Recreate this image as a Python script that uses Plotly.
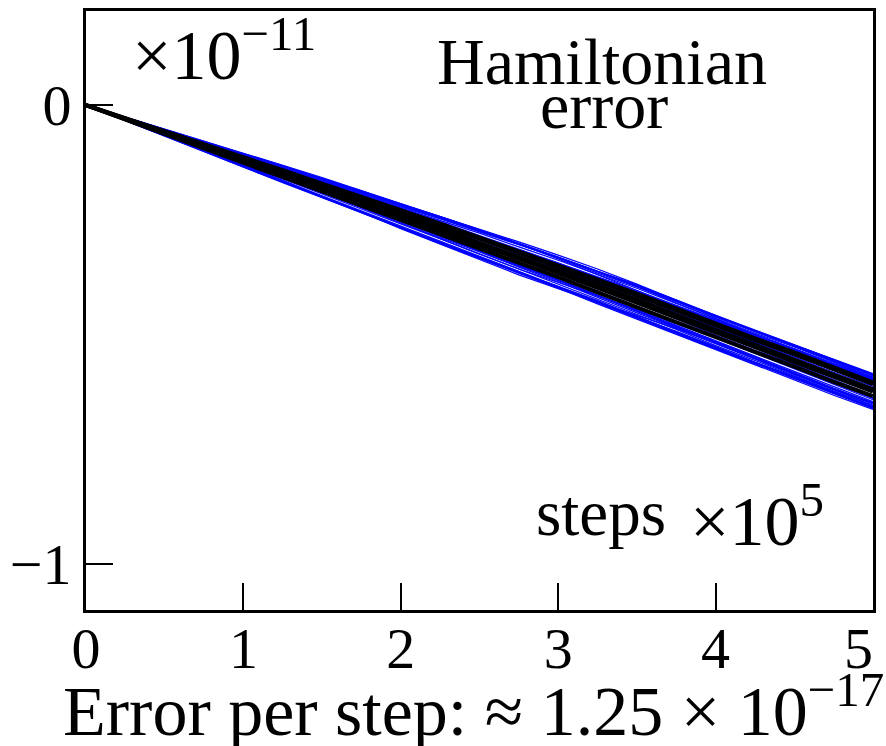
import plotly.graph_objects as go

# Simulation steps (units of 1e5) at which the Hamiltonian error was sampled
steps = [0.0, 0.25, 0.5, 0.75, 1.0, 1.25, 1.5, 1.75, 2.0, 2.25, 2.5,
         2.75, 3.0, 3.25, 3.5, 3.75, 4.0, 4.25, 4.5, 4.75, 5.0]

# Ensemble-average drift of the Hamiltonian error (units of 1e-14)
drift = [0, -30, -60, -90, -120, -150, -180, -210, -241, -271, -302,
         -333, -364, -396, -428, -461, -494, -526, -558, -591, -623]

# Per-trajectory departures from the drift (units of 1e-14), blue runs
blue_runs = [
    [0, 4, 8, 12, 15, 19, 22, 24, 27, 29, 31, 32, 33, 35, 36, 35, 36, 37, 36, 37, 37],
    [0, -4, -8, -12, -16, -19, -22, -25, -27, -29, -31, -32, -33, -34, -35, -36, -35, -36, -37, -36, -37],
    [0, 3, 7, 9, 12, 14, 16, 19, 22, 25, 27, 30, 31, 30, 32, 33, 32, 34, 33, 34, 33],
    [0, -3, -6, -9, -12, -14, -17, -20, -23, -26, -28, -30, -31, -32, -33, -32, -33, -34, -33, -34, -35],
    [0, 3, 5, 7, 9, 11, 14, 16, 17, 20, 23, 24, 26, 27, 29, 29, 30, 29, 31, 31, 30],
    [0, -3, -5, -7, -10, -11, -14, -16, -18, -20, -22, -24, -25, -27, -28, -28, -30, -30, -31, -32, -32],
    [0, 2, 4, 6, 7, 10, 12, 13, 15, 17, 18, 19, 21, 22, 24, 25, 26, 26, 27, 26, 27],
    [0, -2, -4, -6, -7, -10, -12, -13, -16, -17, -18, -20, -21, -23, -24, -25, -26, -27, -28, -29, -28],
    [0, 3, 5, 4, 7, 11, 14, 18, 21, 25, 28, 30, 29, 27, 24, 22, 21, 20, 22, 24, 25],
    [0, -3, -4, -7, -11, -14, -19, -23, -28, -32, -35, -37, -36, -33, -29, -26, -24, -25, -27, -28, -26],
    [0, 2, 3, 6, 8, 7, 10, 12, 11, 14, 16, 15, 17, 19, 18, 20, 22, 23, 25, 24, 26],
    [0, -2, -3, -6, -7, -8, -11, -10, -12, -15, -16, -18, -17, -19, -21, -22, -21, -23, -24, -26, -25],
    [0, 2, 4, 3, 6, 8, 11, 15, 19, 23, 26, 29, 32, 34, 33, 30, 28, 26, 24, 23, 22],
    [0, -2, -3, -5, -4, -7, -10, -13, -16, -20, -23, -24, -22, -19, -17, -16, -14, -15, -17, -18, -19],
    [0, 1, 3, 4, 4, 6, 7, 8, 8, 11, 12, 13, 16, 18, 20, 22, 23, 25, 27, 28, 29],
    [0, -1, -2, -3, -4, -4, -6, -8, -9, -11, -13, -15, -17, -19, -21, -23, -25, -26, -28, -29, -31],
    [0, 1, 2, 3, 3, 4, 4, 6, 8, 9, 9, 10, 12, 11, 12, 13, 14, 15, 14, 15, 16],
    [0, -1, -2, -3, -3, -4, -5, -5, -7, -7, -8, -9, -8, -9, -10, -12, -11, -12, -13, -14, -15],
    [0, 3, 5, 8, 11, 13, 17, 21, 25, 28, 32, 35, 37, 39, 38, 36, 34, 35, 36, 37, 38],
    [0, -3, -5, -9, -13, -17, -21, -25, -28, -31, -32, -33, -35, -37, -38, -39, -39, -40, -40, -41, -40],
    [0, 1, 3, 4, 7, 8, 10, 12, 14, 15, 17, 18, 20, 21, 22, 24, 25, 26, 27, 28, 29],
    [0, -1, -3, -4, -7, -8, -10, -12, -13, -14, -16, -17, -18, -19, -20, -21, -22, -24, -25, -26, -27],
    [0, 1, 3, 3, 4, 5, 5, 7, 7, 8, 9, 8, 7, 6, 7, 8, 9, 10, 12, 13, 14],
    [0, -1, -1, -2, -3, -3, -3, -4, -4, -5, -4, -3, -2, -3, -4, -5, -7, -8, -7, -8, -9],
    [0, 3, 6, 10, 14, 18, 20, 23, 25, 27, 29, 31, 33, 34, 36, 37, 36, 34, 32, 31, 30],
    [0, -3, -6, -10, -14, -17, -19, -22, -25, -28, -30, -32, -31, -30, -32, -34, -35, -35, -36, -35, -34],
    [0, 1, 2, 3, 4, 5, 8, 9, 12, 13, 15, 17, 18, 17, 16, 15, 16, 17, 18, 19, 20],
    [0, -1, -3, -3, -4, -5, -7, -8, -9, -12, -13, -15, -16, -18, -19, -19, -20, -21, -22, -22, -23],
    [0, 1, 2, 4, 5, 7, 8, 9, 10, 11, 12, 12, 13, 13, 14, 14, 15, 16, 17, 17, 18],
    [0, -1, -2, -3, -4, -5, -6, -6, -7, -8, -9, -9, -10, -10, -11, -12, -12, -13, -14, -15, -16],
    [0, 2, 3, 5, 6, 8, 9, 11, 12, 13, 14, 16, 17, 19, 20, 21, 21, 22, 22, 23, 23],
    [0, 0, 1, 1, 2, 2, 3, 3, 4, 5, 5, 6, 6, 7, 7, 8, 8, 8, 9, 9, 10],
    [0, 4, 7, 11, 14, 17, 20, 23, 26, 28, 30, 31, 32, 33, 34, 34, 35, 35, 35, 36, 35],
    [0, -4, -7, -11, -15, -18, -21, -24, -26, -28, -29, -30, -32, -33, -34, -34, -34, -35, -35, -35, -36],
    [0, 3, 6, 9, 13, 16, 19, 21, 24, 26, 29, 31, 32, 33, 34, 33, 33, 32, 33, 34, 34],
    [0, -3, -7, -10, -13, -16, -20, -23, -25, -27, -29, -31, -33, -34, -35, -36, -37, -37, -38, -38, -38],
]

# Highlighted (black) runs, same units
black_runs = [
    [0, 2, 4, 5, 7, 8, 9, 11, 12, 13, 14, 15, 16, 16, 17, 17, 18, 18, 19, 19, 19],
    [0, 1, 3, 4, 5, 6, 7, 8, 9, 10, 11, 11, 12, 12, 13, 13, 14, 14, 15, 15, 15],
    [0, 0, 1, 1, 2, 2, 2, 3, 3, 3, 3, 3, 3, 4, 4, 4, 4, 4, 4, 4, 4],
    [0, -1, -1, -2, -2, -3, -3, -3, -3, -3, -3, -2, -2, -2, -2, -1, -1, -1, -1, -1, -1],
    [0, -2, -3, -5, -6, -7, -8, -9, -10, -10, -11, -11, -11, -12, -12, -12, -12, -12, -12, -12, -11],
]

x_ticks = [0, 1, 2, 3, 4, 5]
x_tick_text = ["0", "1", "2", "3", "4", "5\u2002"]
y_ticks = [0, -1]
y_tick_text = ["0", "\u22121"]

SERIF = "Liberation Serif, Times New Roman, serif"


def trajectory(dev):
    # error in units of 1e-11
    return [(d + e) / 1000.0 for d, e in zip(drift, dev)]


fig = go.Figure()
for run in blue_runs:
    fig.add_trace(go.Scatter(x=steps, y=trajectory(run), mode="lines",
                             line=dict(color="#0000ff", width=1.2),
                             hoverinfo="skip"))
for run in black_runs:
    fig.add_trace(go.Scatter(x=steps, y=trajectory(run), mode="lines",
                             line=dict(color="#000000", width=4),
                             hoverinfo="skip"))

axis_common = dict(showgrid=False, zeroline=False, showline=True,
                   linecolor="black", linewidth=3, mirror=True,
                   ticks="inside", ticklen=27, tickwidth=2, tickcolor="black",
                   ticklabeloverflow="allow", automargin=False,
                   tickfont=dict(family=SERIF, size=58, color="black"))

fig.update_xaxes(range=[0, 5], tickmode="array", tickvals=x_ticks,
                 ticktext=x_tick_text, ticklabelstandoff=-15, **axis_common)
fig.update_yaxes(range=[-1.10, 0.205], tickmode="array", tickvals=y_ticks,
                 ticktext=y_tick_text, **axis_common)

annotations = [
    dict(text="\u00d710<sup>\u221211</sup>", x=0.056, y=0.935, xanchor="left",
         yanchor="middle", font=dict(size=70)),
    dict(text="Hamiltonian", x=0.656, y=0.9165, xanchor="center",
         yanchor="middle", font=dict(size=66)),
    dict(text="error", x=0.658, y=0.843, xanchor="center",
         yanchor="middle", font=dict(size=66)),
    dict(text="steps", x=0.654, y=0.162, xanchor="center",
         yanchor="middle", font=dict(size=65)),
    dict(text="\u00d710<sup>5</sup>", x=0.853, y=0.157, xanchor="center",
         yanchor="middle", font=dict(size=70)),
    dict(text="Error per step: \u2248 1.25 \u00d7 10<sup>\u221217</sup>",
         x=0.493, y=-0.160, xanchor="center", yanchor="middle",
         font=dict(size=70)),
]
for a in annotations:
    a.update(xref="paper", yref="paper", showarrow=False)
    a["font"].update(family=SERIF, color="black")

fig.update_layout(width=886, height=746,
                  margin=dict(l=86, r=13, t=11, b=136, autoexpand=False),
                  paper_bgcolor="white", plot_bgcolor="white",
                  showlegend=False, annotations=annotations,
                  font=dict(family=SERIF, color="black"))

fig.write_html("out.html")
